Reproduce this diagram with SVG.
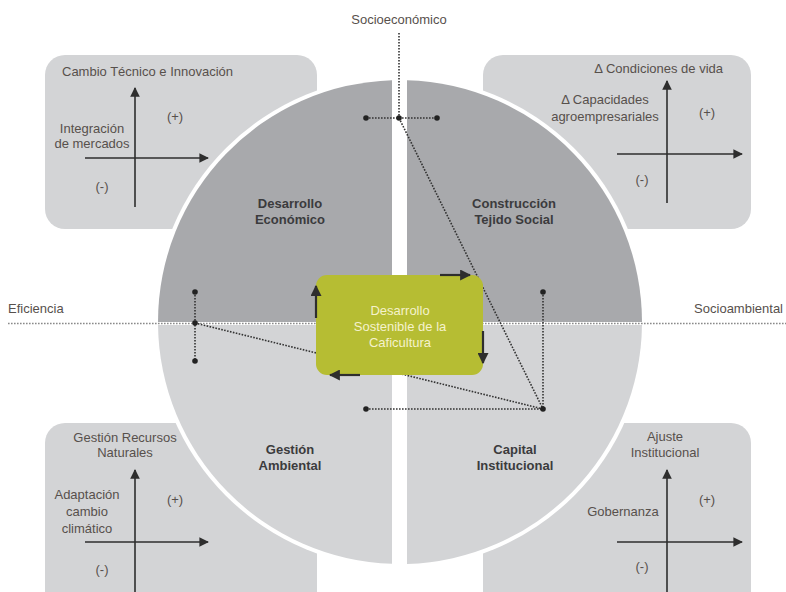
<svg xmlns="http://www.w3.org/2000/svg" width="786" height="592" viewBox="0 0 786 592">
<style>
.box{fill:#d3d4d6}
.dark{fill:#a8a9ac}
.light{fill:#d3d4d6}
.ct{font-family:"Liberation Sans",Arial,sans-serif;font-size:13px;fill:#57504c}
.ql{font-family:"Liberation Sans",Arial,sans-serif;font-size:13px;font-weight:bold;fill:#3b3b3d;text-anchor:middle}
.gl{font-family:"Liberation Sans",Arial,sans-serif;font-size:13px;fill:#f5f2cc;text-anchor:middle}
.ax{stroke:#2e2e2e;stroke-width:1.6;fill:none}
.dot{stroke:#333;stroke-width:1.6;stroke-dasharray:1.6 1.4;fill:none}
.axisline{stroke:#8a8a8a;stroke-width:1.6;stroke-dasharray:1.6 1.4;fill:none}
.fl{stroke:#2e2e2e;stroke-width:2.2;fill:none}
.pt{fill:#222}
.mid{text-anchor:middle}
.end{text-anchor:end}
</style>
<defs>
<marker id="ah" viewBox="0 0 10 10" refX="9" refY="5" markerWidth="6" markerHeight="6" markerUnits="strokeWidth" orient="auto">
<path d="M0,0 L10,5 L0,10 Z" fill="#2e2e2e"/>
</marker>
<marker id="ah2" viewBox="0 0 10 10" refX="9" refY="5" markerWidth="5" markerHeight="5" markerUnits="strokeWidth" orient="auto">
<path d="M0,0 L10,5 L0,10 Z" fill="#2e2e2e"/>
</marker>
</defs>
<rect width="786" height="592" fill="#ffffff"/>

<!-- corner boxes -->
<g id="box-tl">
<rect class="box" x="45" y="55" width="272" height="174" rx="20"/>
</g>
<g id="box-tr">
<rect class="box" x="483" y="55" width="268" height="174" rx="20"/>
</g>
<g id="box-bl">
<rect class="box" x="45" y="423" width="272" height="200" rx="20"/>
</g>
<g id="box-br">
<rect class="box" x="483" y="423" width="268" height="200" rx="20"/>
</g>

<!-- white border of circle -->
<circle cx="400" cy="322" r="246" fill="#ffffff"/>

<!-- quadrants -->
<g id="q-desarrollo-economico">
<path class="dark" d="M392,322 L158,322 A242,242 0 0 1 392,80.13 Z"/>
<text class="ql" x="290" y="208">Desarrollo</text>
<text class="ql" x="290" y="224">Económico</text>
</g>
<g id="q-tejido-social">
<path class="dark" d="M407,322 L407,80.2 A242,242 0 0 1 642,322 Z"/>
<text class="ql" x="514" y="208">Construcción</text>
<text class="ql" x="514" y="224">Tejido Social</text>
</g>
<g id="q-gestion-ambiental">
<path class="light" d="M392,325 L158.02,325 A242,242 0 0 0 392,563.87 Z"/>
<text class="ql" x="290" y="454">Gestión</text>
<text class="ql" x="290" y="470">Ambiental</text>
</g>
<g id="q-capital-institucional">
<path class="light" d="M407,325 L641.98,325 A242,242 0 0 1 407,563.9 Z"/>
<text class="ql" x="515" y="454">Capital</text>
<text class="ql" x="515" y="470">Institucional</text>
</g>

<!-- corner box contents -->
<g id="chart-tl">
<text class="ct" x="62" y="76">Cambio Técnico e Innovación</text>
<text class="ct mid" x="92" y="133">Integración</text>
<text class="ct mid" x="92" y="148">de mercados</text>
<text class="ct mid" x="175" y="121">(+)</text>
<text class="ct mid" x="102" y="191">(-)</text>
<line class="ax" x1="135" y1="207" x2="135" y2="88" marker-end="url(#ah)"/>
<line class="ax" x1="85" y1="158" x2="208" y2="158" marker-end="url(#ah)"/>
</g>
<g id="chart-tr">
<text class="ct end" x="723" y="73">Δ Condiciones de vida</text>
<text class="ct mid" x="605" y="104">Δ Capacidades</text>
<text class="ct mid" x="605" y="121">agroempresariales</text>
<text class="ct mid" x="707" y="117">(+)</text>
<text class="ct mid" x="642" y="184">(-)</text>
<line class="ax" x1="667" y1="203" x2="667" y2="81" marker-end="url(#ah)"/>
<line class="ax" x1="617" y1="154" x2="742" y2="154" marker-end="url(#ah)"/>
</g>
<g id="chart-bl">
<text class="ct mid" x="125" y="442">Gestión Recursos</text>
<text class="ct mid" x="125" y="457">Naturales</text>
<text class="ct mid" x="87" y="499">Adaptación</text>
<text class="ct mid" x="87" y="516">cambio</text>
<text class="ct mid" x="87" y="533">climático</text>
<text class="ct mid" x="175" y="504">(+)</text>
<text class="ct mid" x="102" y="574">(-)</text>
<line class="ax" x1="135" y1="592" x2="135" y2="470" marker-end="url(#ah)"/>
<line class="ax" x1="85" y1="542" x2="208" y2="542" marker-end="url(#ah)"/>
</g>
<g id="chart-br">
<text class="ct mid" x="665" y="441">Ajuste</text>
<text class="ct mid" x="665" y="457">Institucional</text>
<text class="ct mid" x="623" y="516">Gobernanza</text>
<text class="ct mid" x="707" y="504">(+)</text>
<text class="ct mid" x="642" y="571">(-)</text>
<line class="ax" x1="667" y1="592" x2="667" y2="470" marker-end="url(#ah)"/>
<line class="ax" x1="617" y1="542" x2="742" y2="542" marker-end="url(#ah)"/>
</g>

<!-- axis labels -->
<g id="axis-labels">
<line x1="158" y1="323.5" x2="642" y2="323.5" stroke="#ffffff" stroke-width="3"/>
<line class="axisline" x1="8" y1="323.5" x2="786" y2="323.5"/>
<text class="ct" x="8" y="313">Eficiencia</text>
<text class="ct end" x="783" y="313">Socioambiental</text>
<text class="ct mid" x="399" y="24">Socioeconómico</text>
</g>

<!-- connectors -->
<g id="connectors">
<line class="dot" x1="399" y1="33" x2="399" y2="118"/>
<line class="dot" x1="366" y1="118" x2="437" y2="118"/>
<line class="dot" x1="195" y1="292" x2="195" y2="361"/>
<line class="dot" x1="543" y1="292" x2="543" y2="409"/>
<line class="dot" x1="366" y1="409" x2="543" y2="409"/>
<line class="dot" x1="195" y1="323" x2="543" y2="409"/>
<line class="dot" x1="399" y1="118" x2="543" y2="409"/>
<circle class="pt" cx="366" cy="118" r="2.8"/>
<circle class="pt" cx="399" cy="118" r="2.8"/>
<circle class="pt" cx="437" cy="118" r="2.8"/>
<circle class="pt" cx="195" cy="292" r="2.8"/>
<circle class="pt" cx="195" cy="323" r="2.8"/>
<circle class="pt" cx="195" cy="361" r="2.8"/>
<circle class="pt" cx="543" cy="292" r="2.8"/>
<circle class="pt" cx="543" cy="409" r="2.8"/>
<circle class="pt" cx="366" cy="409" r="2.8"/>
</g>

<!-- center node -->
<g id="center-node">
<rect x="316" y="275" width="167" height="100" rx="11" fill="#b6bd33"/>
<text class="gl" x="400" y="315">Desarrollo</text>
<text class="gl" x="400" y="331">Sostenible de la</text>
<text class="gl" x="400" y="347">Caficultura</text>
</g>

<!-- cycle arrows -->
<g id="cycle-arrows">
<line class="fl" x1="440" y1="275" x2="470" y2="275" marker-end="url(#ah2)"/>
<line class="fl" x1="483" y1="331" x2="483" y2="363" marker-end="url(#ah2)"/>
<line class="fl" x1="360" y1="375" x2="330" y2="375" marker-end="url(#ah2)"/>
<line class="fl" x1="316" y1="318" x2="316" y2="286" marker-end="url(#ah2)"/>
</g>
</svg>
